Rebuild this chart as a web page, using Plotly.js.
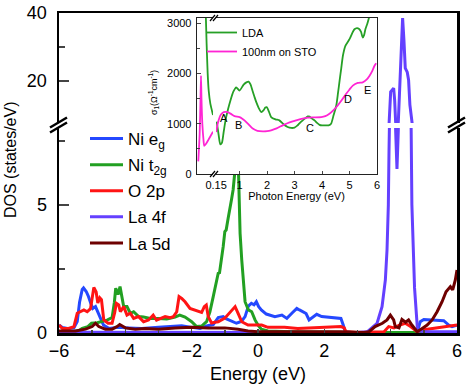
<!DOCTYPE html>
<html>
<head>
<meta charset="utf-8">
<script src="https://cdn.plot.ly/plotly-3.0.1.min.js"></script>
<style>
  html, body { margin:0; padding:0; background:#fff; }
  #wrap { position:relative; width:469px; height:386px; }
  #chart, #inset { position:absolute; left:0; top:0; width:469px; height:386px; }
</style>
</head>
<body>
<div id="wrap"><div id="chart"></div><div id="inset"></div></div>
<script>
/* DOS panel with broken y axis + optical conductivity inset (drawn on top) */

// ---- main panel: projected DOS (states/eV) vs energy (eV)
const egE   = [-6,-5.9,-5.75,-5.55,-5.45,-5.38,-5.3,-5.26,-5.18,-5.12,-5.04,-4.98,-4.9,-4.84,-4.77,-4.66,-4.5,-4.2,-3.9,-3.5,-3,-2.6,-2.3,-2,-1.75,-1.55,-1.35,-1.2,-1.05,-0.95,-0.8,-0.65,-0.5,-0.39,-0.29,-0.2,-0.12,-0.05,0.02,0.1,0.25,0.4,0.51,0.72,0.87,1.02,1.17,1.25,1.33,1.45,1.54,1.65,1.77,1.92,2.2,2.35,2.5,2.57,2.63,2.8,3.5,4.7,4.82,4.89,5,5.3,5.6,5.75,5.85,6];
const egDOS = [0.31,0.22,0.18,0.2,0.45,1.2,1.7,1.76,1.62,1.45,1.15,0.96,1.03,0.85,0.57,0.31,0.18,0.22,0.2,0.18,0.22,0.25,0.28,0.22,0.18,0.28,0.33,0.6,0.64,0.55,0.48,0.38,0.45,0.64,1.05,1.16,1.1,1.22,1.03,0.9,0.74,0.68,0.64,0.7,0.57,0.77,0.96,0.9,0.83,0.76,0.51,0.62,0.73,0.64,0.6,0.6,0.57,0.31,0.05,0.02,0.02,0.02,0.12,0.44,0.53,0.5,0.48,0.31,0.25,0.31];

const t2gE   = [-6,-5.6,-5.4,-5.3,-5.13,-5.02,-4.85,-4.7,-4.55,-4.4,-4.33,-4.29,-4.22,-4.16,-4.1,-4.05,-3.95,-3.85,-3.75,-3.6,-3.45,-3.25,-3,-2.75,-2.5,-2.36,-2.2,-2,-1.85,-1.7,-1.55,-1.45,-1.35,-1.25,-1.2,-1.16,-1.1,-1.05,-1,-0.96,-0.9,-0.85,-0.8,-0.75,-0.72,-0.66,-0.6,-0.57,-0.54,-0.49,-0.44,-0.39,-0.29,-0.19,-0.09,0,0.1,0.3,1,3,6];
const t2gDOS = [0.05,0.05,0.1,0.18,0.25,0.38,0.4,0.45,0.5,0.6,1.2,1.75,1.5,1.81,1.4,1.03,1.03,0.77,0.83,0.64,0.62,0.57,0.57,0.55,0.62,0.7,0.62,0.44,0.25,0.27,0.44,0.83,1.42,2.07,2.33,2.35,2.85,3.37,3.96,4.02,4.48,4.8,5.2,5.59,5.98,6.8,6.9,5.07,3.89,2.85,1.94,1.22,0.9,0.83,0.51,0.31,0.15,0.08,0.05,0.02,0.02];

const o2pE   = [-6,-5.9,-5.7,-5.55,-5.45,-5.35,-5.25,-5.15,-5.05,-4.95,-4.88,-4.83,-4.77,-4.72,-4.65,-4.52,-4.4,-4.32,-4.27,-4.2,-4.15,-4.05,-3.95,-3.85,-3.75,-3.6,-3.45,-3.3,-3.16,-3.06,-2.95,-2.8,-2.65,-2.55,-2.45,-2.38,-2.3,-2.2,-2.05,-1.9,-1.8,-1.7,-1.62,-1.56,-1.5,-1.4,-1.3,-1.2,-1,-0.8,-0.69,-0.6,-0.49,-0.3,-0.09,0.11,0.3,0.8,1.2,2,2.5,2.6,2.65,3,3.8,3.94,4.1,4.25,4.44,4.6,4.8,4.95,5.4,5.8,6];
const o2pDOS = [0.31,0.18,0.18,0.25,0.77,0.85,0.9,0.83,0.95,1.78,1.6,1.17,1.37,1.3,0.51,0.38,0.38,0.8,1.16,1.1,0.83,1.03,0.7,0.77,0.57,0.64,0.44,0.51,0.7,0.5,0.57,0.64,0.6,0.64,0.83,1.42,1.35,1.22,0.96,0.9,0.83,0.8,1.03,1.09,0.64,0.39,0.42,0.44,0.58,0.9,1.03,0.77,0.44,0.31,0.31,0.31,0.22,0.22,0.18,0.22,0.25,0.2,0.05,0.02,0.05,0.25,0.2,0.3,0.38,0.25,0.05,0.12,0.2,0.25,0.31];

const f4E   = [-6,-3,0,3,3.3,3.59,3.74,3.84,3.89,3.93,3.95,3.97,4,4.09,4.12,4.15,4.19,4.23,4.26,4.31,4.36,4.4,4.44,4.5,4.54,4.58,4.64,4.72,4.79,4.81,5,6];
const f4DOS = [0.03,0.03,0.03,0.02,0.05,0.38,1.03,2.07,3.24,5,7.1,13.8,16.8,17.9,14.4,7.9,6.4,7.9,14.4,29,38.5,32,23.8,22.6,20.3,13,5,1.76,0.31,0.1,0.05,0.05];

const d5E   = [-6,-5.5,-5.2,-5,-4.9,-4.8,-4.6,-4.4,-4.25,-4.17,-4,-3.7,-3.4,-3,-2.5,-2,-1.5,-1,-0.6,-0.3,0,1,2.5,3.2,3.35,3.53,3.75,3.89,3.99,4.09,4.14,4.25,4.34,4.45,4.54,4.64,4.74,4.8,4.95,5.1,5.25,5.4,5.55,5.67,5.8,5.87,5.95,6];
const d5DOS = [0.08,0.08,0.15,0.25,0.38,0.25,0.15,0.15,0.25,0.33,0.2,0.15,0.18,0.15,0.2,0.22,0.2,0.2,0.15,0.08,0.05,0.05,0.05,0.02,0.05,0.25,0.38,0.51,0.7,0.51,0.25,0.2,0.53,0.42,0.51,0.31,0.12,0.05,0.18,0.31,0.51,0.83,1.22,1.61,1.81,1.68,2.07,2.46];

// ---- inset: sigma_1 (1/(Ohm cm)) vs photon energy (eV), split at 0.15 eV
const ldaLowE  = [0.08,0.084,0.09,0.1,0.11,0.125,0.14,0.15];
const ldaLowS  = [3300,3050,2600,2000,1650,1400,1260,1170];
const ldaE = [0.17,0.24,0.3,0.36,0.42,0.49,0.58,0.67,0.78,0.88,1,1.15,1.25,1.33,1.4,1.47,1.54,1.61,1.7,1.79,1.87,1.94,1.99,2.07,2.15,2.31,2.45,2.6,2.75,2.88,3,3.1,3.18,3.3,3.4,3.48,3.55,3.62,3.73,3.82,3.91,4,4.09,4.24,4.33,4.42,4.52,4.58,4.64,4.7,4.76,4.85,5,5.1,5.18,5.27,5.34,5.42,5.48,5.53,5.58,5.65,5.73];
const ldaS = [1040,780,590,620,820,1066,1280,1461,1640,1723,1658,1777,1820,1836,1780,1658,1540,1427,1310,1230,1263,1320,1328,1240,1131,1086,1066,987,934,915,922,960,1007,1066,1110,1145,1140,1105,1066,1015,977,965,967,967,1000,1165,1362,1600,1855,2100,2349,2546,2679,2800,2876,2900,2888,2823,2710,2760,2882,2990,3150];

const stoLowE = [0.012,0.025,0.033,0.0375,0.042,0.05,0.06,0.068,0.085,0.11,0.15];
const stoLowS = [250,800,1500,1950,1500,1000,700,560,600,690,840];
const stoE = [0.15,0.2,0.24,0.3,0.39,0.48,0.57,0.7,0.82,1,1.1,1.18,1.33,1.48,1.65,1.85,2,2.15,2.35,2.57,2.82,3.06,3.25,3.48,3.7,3.97,4.12,4.27,4.42,4.57,4.72,4.88,5,5.12,5.3,5.48,5.62,5.73,5.82,5.91,5.97];
const stoS = [835,980,1066,1160,1218,1235,1230,1190,1151,1131,1100,1066,987,902,859,849,852,869,908,967,1026,1066,1095,1119,1125,1131,1150,1198,1270,1362,1470,1593,1680,1757,1810,1822,1875,1954,2040,2152,2200];

const insetTicks = [0.15,1,2,3,4,5,6];
const insetTickText = ['0.15','1','2','3','4','5','6'];
const peakLabels = [
  {t:'A', e:0.42, s:1105}, {t:'B', e:0.96, s:967}, {t:'C', e:3.58, s:908},
  {t:'D', e:4.96, s:1500}, {t:'E', e:5.65, s:1678}
];

const FONT = 'Arial, "Liberation Sans", sans-serif';
const COL = { eg:'#2448ff', t2g:'#22a022', o2p:'#ff1414', f4:'#6440ff', d5:'#6e0000',
              lda:'#26a026', sto:'#ff24d4' };

// both plots share the same plot area: left 59, right 457, top 13, bottom 333 (px)
const MARGIN = { l:59, r:12, t:13, b:53 };
const PX = x => (x - 59) / 398;
const PY = y => (333 - y) / 320;
const AX = { showgrid:false, zeroline:false, showline:true, linecolor:'#000' };

function brk(x0, y0, x1, y1, w) {
  return { type:'line', xref:'paper', yref:'paper', x0:PX(x0), y0:PY(y0), x1:PX(x1), y1:PY(y1),
           line:{ color:'#000', width:w }, layer:'above' };
}

function dos(name, x, y, color, more) {
  return Object.assign({ type:'scatter', mode:'lines', name, x, y, legendgroup:name,
    xaxis:'x', yaxis:'y', line:{ color, width:3 } }, more || {});
}

// ---------------- main DOS plot
const mainTraces = [
  dos('Ni e<sub>g</sub>', egE, egDOS, COL.eg),
  dos('Ni t<sub>2g</sub>', t2gE, t2gDOS, COL.t2g),
  dos('O 2p', o2pE, o2pDOS, COL.o2p),
  dos('La 4f', f4E, f4DOS, COL.f4),
  dos('La 5d', d5E, d5DOS, COL.d5),
  dos('La 4f', f4E, f4DOS, COL.f4, { xaxis:'x2', yaxis:'y2', showlegend:false }),
];

const mainLayout = {
  width:469, height:386, margin:MARGIN,
  paper_bgcolor:'#fff', plot_bgcolor:'#fff',
  font:{ family:FONT, color:'#000', size:16 },
  xaxis:{ ...AX, domain:[0,1], range:[-6,6], linewidth:2.5, tickvals:[-6,-4,-2,0,2,4,6],
          ticks:'inside', ticklen:4, tickwidth:1.5, tickfont:{ size:18 },
          minor:{ dtick:1, tick0:0, ticks:'inside', ticklen:3, tickwidth:1.5 },
          title:{ text:'Energy (eV)', font:{ size:18 }, standoff:8 } },
  xaxis2:{ ...AX, matches:'x', anchor:'y2', side:'top', domain:[0,1], linewidth:2.5,
           ticks:'', showticklabels:false },
  yaxis:{ ...AX, domain:[0, PY(128)], range:[0,8], mirror:true, linewidth:2.5,
          tickvals:[0,5], ticks:'inside', ticklen:10, tickwidth:2, tickfont:{ size:18 },
          ticklabelstandoff:6,
          minor:{ tickvals:[2.5,7.5], ticks:'inside', ticklen:6, tickwidth:2 } },
  yaxis2:{ ...AX, domain:[PY(123),1], range:[7.65,40], anchor:'x2', mirror:true, linewidth:2.5,
           tickvals:[20,40], ticks:'inside', ticklen:10, tickwidth:2, tickfont:{ size:18 },
           ticklabelstandoff:6,
           minor:{ tickvals:[30], ticks:'inside', ticklen:6, tickwidth:2 } },
  legend:{ x:PX(85), y:PY(121), xanchor:'left', yanchor:'top', bgcolor:'rgba(0,0,0,0)',
           font:{ size:17 }, itemwidth:33, traceorder:'grouped', tracegroupgap:1 },
  annotations:[
    { xref:'paper', yref:'paper', x:PX(10), y:PY(160), xanchor:'center', yanchor:'middle',
      text:'DOS (states/eV)', textangle:-90, showarrow:false, font:{ size:16 } },
  ],
  shapes:[
    brk(50,132.5,67,122.5,2.5), brk(50,127.5,67,117.5,2.5),
    brk(448,132.5,465,122.5,2.5), brk(448,127.5,465,117.5,2.5),
  ],
};

// ---------------- inset plot, overlaid with a transparent paper
function opt(name, x, y, color, low) {
  return { type:'scatter', mode:'lines', name, x, y,
    xaxis: low ? 'x' : 'x2', yaxis: low ? 'y' : 'y2',
    line:{ color, width:1.8, shape:'spline', smoothing:0.6 }, showlegend:!low };
}

const insetTraces = [
  opt('LDA', ldaLowE, ldaLowS, COL.lda, true),
  opt('LDA', ldaE, ldaS, COL.lda, false),
  opt('100nm on STO', stoLowE, stoLowS, COL.sto, true),
  opt('100nm on STO', stoE, stoS, COL.sto, false),
];

const IAX = { ...AX, linewidth:1.3, linecolor:'#222' };
const insetLayout = {
  width:469, height:386, margin:MARGIN,
  paper_bgcolor:'rgba(0,0,0,0)', plot_bgcolor:'#fff',
  font:{ family:FONT, color:'#000', size:11 },
  xaxis:{ ...IAX, domain:[PX(197),PX(213)], range:[0,0.15], anchor:'y', mirror:true,
          ticks:'', showticklabels:false },
  xaxis2:{ ...IAX, domain:[PX(216),PX(377)], range:[0.145,6], anchor:'y2', mirror:true,
           tickvals:insetTicks, ticktext:insetTickText,
           ticks:'inside', ticklen:3, tickwidth:1, tickfont:{ size:11 },
           title:{ text:'Photon Energy (eV)', font:{ size:11 }, standoff:1 } },
  yaxis:{ ...IAX, domain:[PY(174),PY(18)], range:[0,3100], anchor:'x',
          tickvals:[0,1000,2000,3000], ticks:'inside', ticklen:4, tickwidth:1,
          tickfont:{ size:11 }, ticklabelstandoff:2,
          minor:{ tickvals:[500,1500,2500], ticks:'inside', ticklen:2.5, tickwidth:1 } },
  yaxis2:{ ...IAX, domain:[PY(174),PY(18)], matches:'y', anchor:'x2', side:'right',
           ticks:'', showticklabels:false },
  legend:{ x:PX(202), y:PY(18), xanchor:'left', yanchor:'top', bgcolor:'rgba(0,0,0,0)',
           font:{ size:11 }, itemwidth:30, tracegroupgap:0 },
  annotations:[
    { xref:'paper', yref:'paper', x:PX(153), y:PY(93), xanchor:'center', yanchor:'middle',
      textangle:-90, showarrow:false,
      text:'σ<sub>1</sub>(Ω<sup>-1</sup>cm<sup>-1</sup>)', font:{ size:9 } },
    ...peakLabels.map(p => ({ xref:'x2', yref:'y2', x:p.e, y:p.s, text:p.t,
      showarrow:false, font:{ size:11 } }))
  ],
  shapes:[
    brk(210,21,215,15,1.2), brk(213,21,218,15,1.2),
    brk(210,177,215,171,1.2), brk(213,177,218,171,1.2),
  ],
};

const cfg = { displayModeBar:false, staticPlot:true };
Plotly.newPlot('chart', mainTraces, mainLayout, cfg);
Plotly.newPlot('inset', insetTraces, insetLayout, cfg);
</script>
</body>
</html>
